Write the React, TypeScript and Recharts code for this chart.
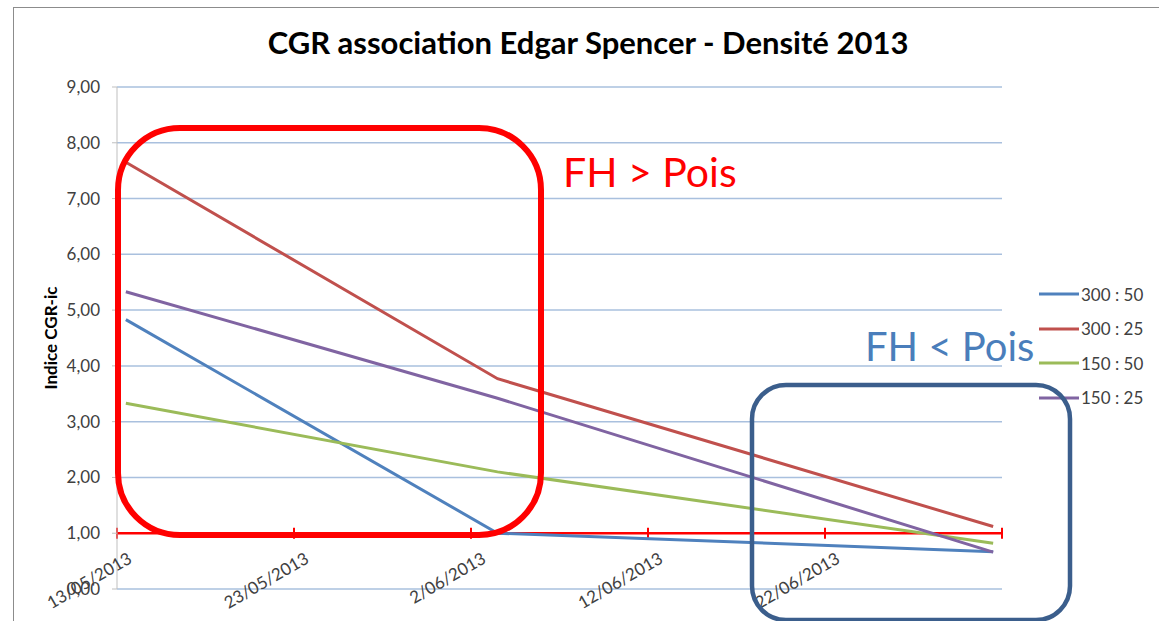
import React from "react";
import { LineChart, Line, XAxis, YAxis, CartesianGrid, ReferenceLine, Legend } from "recharts";

// measurement dates and values (indice CGR-ic)
const DATES = ["13/05/2013", "3/06/2013", "1/07/2013"];
const S300_50 = [4.83, 1.0, 0.67];
const S300_25 = [7.65, 3.77, 1.12];
const S150_50 = [3.33, 2.1, 0.82];
const S150_25 = [5.33, 3.42, 0.66];

const AXIS_DATES = ["13/05/2013", "23/05/2013", "2/06/2013", "12/06/2013", "22/06/2013", "2/07/2013"];
const Y_TICKS = [0, 1, 2, 3, 4, 5, 6, 7, 8, 9];

const SERIES = [
  { key: "s1", name: "300 : 50", values: S300_50, color: "#4F81BD" },
  { key: "s2", name: "300 : 25", values: S300_25, color: "#C0504D" },
  { key: "s3", name: "150 : 50", values: S150_50, color: "#9BBB59" },
  { key: "s4", name: "150 : 25", values: S150_25, color: "#8064A2" },
];

const FONT = "Lato, 'Open Sans', sans-serif";

function dayNum(s: string) {
  const [d, m, y] = s.split("/").map(Number);
  return Date.UTC(y, m - 1, d) / 86400000;
}

const START = dayNum(AXIS_DATES[0]);
const axisTicks = AXIS_DATES.map((s) => dayNum(s) - START);

// excel date axis: each day sits in the middle of its slot
const data = DATES.map((d, i) => {
  const row: Record<string, number> = { x: dayNum(d) - START + 0.5 };
  SERIES.forEach((s) => (row[s.key] = s.values[i]));
  return row;
});

const fmt = (v: number) => v.toFixed(2).replace(".", ",");

function DateTick(props: any) {
  const { x, y, index } = props;
  if (index === AXIS_DATES.length - 1) return null;
  return (
    <text
      transform={`translate(${x + 16},${y - 27}) rotate(-30)`}
      textAnchor="end"
      fontSize={17}
      fontFamily={FONT}
      fill="#404040"
    >
      {AXIS_DATES[index]}
    </text>
  );
}

function LegendBox() {
  return (
    <div style={{ fontFamily: FONT, fontSize: 17, color: "#404040" }}>
      {SERIES.map((s) => (
        <div key={s.key} style={{ display: "flex", alignItems: "center", height: 34.5 }}>
          <svg width={42} height={6}>
            <line x1={0} y1={3} x2={40} y2={3} stroke={s.color} strokeWidth={3} />
          </svg>
          <span>{s.name}</span>
        </div>
      ))}
    </div>
  );
}

export default function App() {
  return (
    <div style={{ position: "absolute", left: 0, top: 0, width: 1159, height: 621, overflow: "hidden", background: "#fff" }}>
      <div style={{ position: "absolute", left: 13, top: 7, width: 1300, height: 800, border: "1.5px solid #8c8c8c" }} />
      <LineChart width={1159} height={621} data={data} margin={{ top: 87, right: 37, left: 17, bottom: 2 }}>
        <CartesianGrid vertical={false} stroke="#A9C0DE" strokeWidth={1.5} />
        <XAxis
          type="number"
          dataKey="x"
          domain={[0, axisTicks[axisTicks.length - 1]]}
          ticks={axisTicks}
          axisLine={false}
          tickLine={false}
          tickSize={0}
          tickMargin={0}
          height={30}
          interval={0}
          tick={<DateTick />}
        />
        <YAxis
          domain={[0, 9]}
          ticks={Y_TICKS}
          width={100}
          tickFormatter={fmt}
          stroke="#BFBFBF"
          tickSize={5}
          tickMargin={12}
          tick={{ fontSize: 17, fontFamily: FONT, fill: "#404040" }}
          interval={0}
        />
        <ReferenceLine y={1} stroke="#FF0000" strokeWidth={2.5} />
        {axisTicks.map((t) => (
          <ReferenceLine
            key={t}
            segment={[
              { x: t, y: 0.9 },
              { x: t, y: 1.1 },
            ]}
            stroke="#FF0000"
            strokeWidth={2}
          />
        ))}
        {SERIES.map((s) => (
          <Line
            key={s.key}
            dataKey={s.key}
            name={s.name}
            stroke={s.color}
            strokeWidth={3}
            dot={false}
            isAnimationActive={false}
          />
        ))}
        <Legend
          layout="vertical"
          align="right"
          verticalAlign="top"
          content={<LegendBox />}
          wrapperStyle={{ left: 1039, top: 277, width: 120 }}
        />
      </LineChart>
      <svg width={1159} height={621} style={{ position: "absolute", left: 0, top: 0, pointerEvents: "none" }}>
        <text x={588} y={54} textAnchor="middle" fontFamily={FONT} fontWeight="bold" fontSize={31} fill="#000">
          CGR association Edgar Spencer - Densité 2013
        </text>
        <text
          transform="translate(57,338) rotate(-90)"
          textAnchor="middle"
          fontFamily={FONT}
          fontWeight="bold"
          fontSize={17}
          fill="#000"
        >
          Indice CGR-ic
        </text>
        <rect x={118} y={128} width={423} height={407} rx={62} fill="none" stroke="#FF0000" strokeWidth={6} />
        <text x={563} y={187} fontFamily={FONT} fontSize={41} fill="#FF0000">
          FH &gt; Pois
        </text>
        <rect x={752} y={385} width={318} height={235} rx={34} fill="none" stroke="#3B5E8C" strokeWidth={4.5} />
        <text x={865} y={361} fontFamily={FONT} fontSize={40} fill="#4A7EBB">
          FH &lt; Pois
        </text>
      </svg>
    </div>
  );
}
